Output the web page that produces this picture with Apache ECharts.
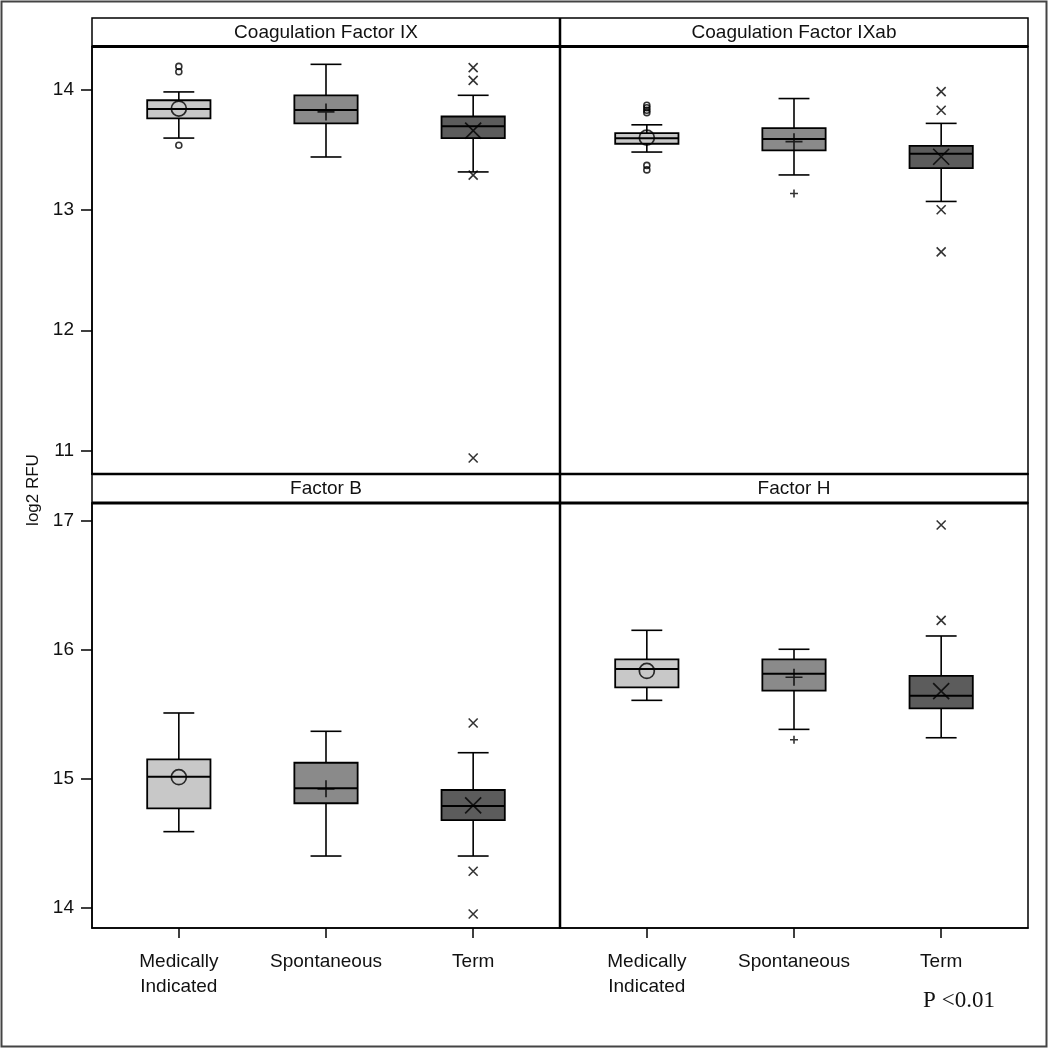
<!DOCTYPE html>
<html>
<head>
<meta charset="utf-8">
<script src="https://cdn.jsdelivr.net/npm/echarts@6/dist/echarts.min.js"></script>
<style>
html,body{margin:0;padding:0;background:#fff;}
#chart{width:1050px;height:1050px;}
</style>
</head>
<body>
<div id="chart"></div>
<script>
// ---------------- DATA ----------------
const groups = ['Medically\nIndicated', 'Spontaneous', 'Term'];
const panelTitles = ['Coagulation Factor IX', 'Coagulation Factor IXab', 'Factor B', 'Factor H'];
const yTicksTop = [11, 12, 13, 14];
const yTicksBottom = [14, 15, 16, 17];

// box stats per group: [lowWhisker, Q1, median, Q3, highWhisker]
const boxIX   = [[13.595, 13.758, 13.837, 13.909, 13.978], [13.438, 13.717, 13.829, 13.950, 14.207], [13.314, 13.595, 13.694, 13.774, 13.950]];
const boxIXab = [[13.479, 13.548, 13.593, 13.636, 13.705], [13.289, 13.493, 13.587, 13.678, 13.923], [13.069, 13.345, 13.465, 13.531, 13.717]];
const boxB    = [[14.588, 14.769, 15.014, 15.149, 15.508], [14.399, 14.808, 14.924, 15.122, 15.366], [14.399, 14.678, 14.787, 14.911, 15.200]];
const boxH    = [[15.606, 15.707, 15.849, 15.924, 16.149], [15.381, 15.681, 15.812, 15.924, 16.002], [15.316, 15.544, 15.642, 15.795, 16.105]];

const meanIX   = [13.840, 13.812, 13.657];
const meanIXab = [13.598, 13.565, 13.440];
const meanB    = [15.010, 14.920, 14.792];
const meanH    = [15.834, 15.785, 15.678];

const outIX   = [[14.190, 14.145, 13.535], [], [14.180, 14.074, 13.287, 10.940]];
const outIXab = [[13.868, 13.847, 13.826, 13.806, 13.368, 13.331], [13.135], [13.981, 13.826, 13.000, 12.650]];
const outB    = [[], [], [15.430, 14.281, 13.950]];
const outH    = [[], [15.301], [16.965, 16.226]];

// ---------------- STYLE / LAYOUT ----------------
const boxColors = ['#c8c8c8', '#8a8a8a', '#5c5c5c'];
const meanSym = ['circle', 'path://M5,0L5,10M0,5L10,5', 'path://M0,0L10,10M10,0L0,10'];
const meanSize = [15, 17, 16];
const outSize = [6, 8, 9];
const xMin = -0.59, xMax = 2.59;
const panels = [
  {box: boxIX,   mean: meanIX,   out: outIX,   left: 92,  top: 46.5, height: 427.5, min: 10.807, max: 14.355, ticks: yTicksTop, showY: true,  showX: false},
  {box: boxIXab, mean: meanIXab, out: outIXab, left: 560, top: 46.5, height: 427.5, min: 10.807, max: 14.355, ticks: yTicksTop, showY: false, showX: false},
  {box: boxB,    mean: meanB,    out: outB,    left: 92,  top: 503,  height: 425,   min: 13.841, max: 17.136, ticks: yTicksBottom, showY: true,  showX: true},
  {box: boxH,    mean: meanH,    out: outH,    left: 560, top: 503,  height: 425,   min: 13.841, max: 17.136, ticks: yTicksBottom, showY: false, showX: true}
];
const FONT = '"Liberation Sans", Arial, sans-serif';

function renderBox(params, api) {
  const x = api.value(0);
  const c = i => api.coord([x, api.value(i)]);
  const lo = c(1), q1 = c(2), med = c(3), q3 = c(4), hi = c(5);
  const bw = api.size([0.43, 0])[0];
  const cw = api.size([0.21, 0])[0];
  const cx = lo[0];
  const ls = {stroke: '#000', lineWidth: 1.6};
  return {
    type: 'group',
    children: [
      {type: 'line', shape: {x1: cx, y1: lo[1], x2: cx, y2: q1[1]}, style: ls},
      {type: 'line', shape: {x1: cx, y1: q3[1], x2: cx, y2: hi[1]}, style: ls},
      {type: 'line', shape: {x1: cx - cw / 2, y1: lo[1], x2: cx + cw / 2, y2: lo[1]}, style: ls},
      {type: 'line', shape: {x1: cx - cw / 2, y1: hi[1], x2: cx + cw / 2, y2: hi[1]}, style: ls},
      {type: 'rect', shape: {x: cx - bw / 2, y: q3[1], width: bw, height: q1[1] - q3[1]},
        style: {fill: boxColors[x], stroke: '#000', lineWidth: 1.8}},
      {type: 'line', shape: {x1: cx - bw / 2, y1: med[1], x2: cx + bw / 2, y2: med[1]}, style: {stroke: '#000', lineWidth: 2}}
    ]
  };
}

const grid = [], xAxis = [], yAxis = [], series = [];
panels.forEach((p, i) => {
  grid.push({left: p.left, top: p.top, width: 468, height: p.height, show: true,
    borderColor: '#000', borderWidth: 1.5, backgroundColor: '#fff', containLabel: false});
  xAxis.push({
    type: 'value', gridIndex: i, min: xMin, max: xMax,
    splitLine: {show: false},
    axisLine: {show: true, onZero: false, lineStyle: {color: '#000', width: 1.5}},
    axisTick: {show: p.showX, customValues: [0, 1, 2], length: 10, lineStyle: {color: '#000', width: 1.5}},
    axisLabel: {show: p.showX, customValues: [0, 1, 2], formatter: v => groups[Math.round(v)] || '',
      fontFamily: FONT, fontSize: 19, color: '#111', margin: 21, lineHeight: 25, verticalAlign: 'top'}
  });
  yAxis.push({
    type: 'value', gridIndex: i, min: p.min, max: p.max,
    splitLine: {show: false},
    axisLine: {show: true, onZero: false, lineStyle: {color: '#000', width: 1.5}},
    axisTick: {show: p.showY, customValues: p.ticks, length: 11, lineStyle: {color: '#000', width: 1.5}},
    axisLabel: {show: p.showY, customValues: p.ticks, fontFamily: FONT, fontSize: 19, color: '#111', margin: 18}
  });
  series.push({
    type: 'custom', xAxisIndex: i, yAxisIndex: i, renderItem: renderBox,
    encode: {x: 0, y: [1, 2, 3, 4, 5]},
    data: p.box.map((b, g) => [g].concat(b)), z: 2, silent: true
  });
  series.push({
    type: 'scatter', xAxisIndex: i, yAxisIndex: i, z: 5, silent: true,
    data: p.mean.map((m, g) => ({value: [g, m], symbol: meanSym[g], symbolSize: meanSize[g]})),
    itemStyle: {color: 'none', borderColor: '#000', borderWidth: 1.7}
  });
  const outs = [];
  p.out.forEach((arr, g) => arr.forEach(v => outs.push({value: [g, v], symbol: meanSym[g], symbolSize: outSize[g]})));
  series.push({
    type: 'scatter', xAxisIndex: i, yAxisIndex: i, z: 5, silent: true, data: outs,
    itemStyle: {color: 'none', borderColor: '#000', borderWidth: 1.6}
  });
});

const titleCenters = [[326, 32.5], [794, 32.5], [326, 488.5], [794, 488.5]];
const graphic = [
  {type: 'rect', shape: {x: 1.5, y: 1.5, width: 1045, height: 1045}, style: {fill: 'none', stroke: '#444', lineWidth: 2}, z: 100},
  {type: 'rect', shape: {x: 92, y: 18, width: 936, height: 28.5}, style: {fill: '#fff', stroke: '#000', lineWidth: 1.5}, z: 100},
  {type: 'rect', shape: {x: 92, y: 474, width: 936, height: 29}, style: {fill: '#fff', stroke: '#000', lineWidth: 1.5}, z: 100},
  {type: 'line', shape: {x1: 92, y1: 46.5, x2: 1028, y2: 46.5}, style: {stroke: '#000', lineWidth: 3}, z: 101},
  {type: 'line', shape: {x1: 92, y1: 474, x2: 1028, y2: 474}, style: {stroke: '#000', lineWidth: 2.5}, z: 101},
  {type: 'line', shape: {x1: 92, y1: 503, x2: 1028, y2: 503}, style: {stroke: '#000', lineWidth: 3}, z: 101},
  {type: 'line', shape: {x1: 560, y1: 18, x2: 560, y2: 928}, style: {stroke: '#000', lineWidth: 2.5}, z: 101},
  {type: 'text', x: 33, y: 490, rotation: Math.PI / 2, style: {text: 'log2 RFU', font: '17px ' + FONT, fill: '#111', textAlign: 'center', textVerticalAlign: 'middle'}, z: 100},
  {type: 'text', x: 959, y: 1001, style: {text: 'P <0.01', font: '23px "Liberation Serif", "Times New Roman", serif', fill: '#111', textAlign: 'center', textVerticalAlign: 'middle'}, z: 100}
];
panelTitles.forEach((t, i) => {
  graphic.push({type: 'text', x: titleCenters[i][0], y: titleCenters[i][1],
    style: {text: t, font: '19px ' + FONT, fill: '#111', textAlign: 'center', textVerticalAlign: 'middle'}, z: 102});
});

const chart = echarts.init(document.getElementById('chart'), null, {renderer: 'canvas'});
chart.setOption({
  animation: false,
  backgroundColor: '#fff',
  grid, xAxis, yAxis, series, graphic
});
</script>
</body>
</html>
